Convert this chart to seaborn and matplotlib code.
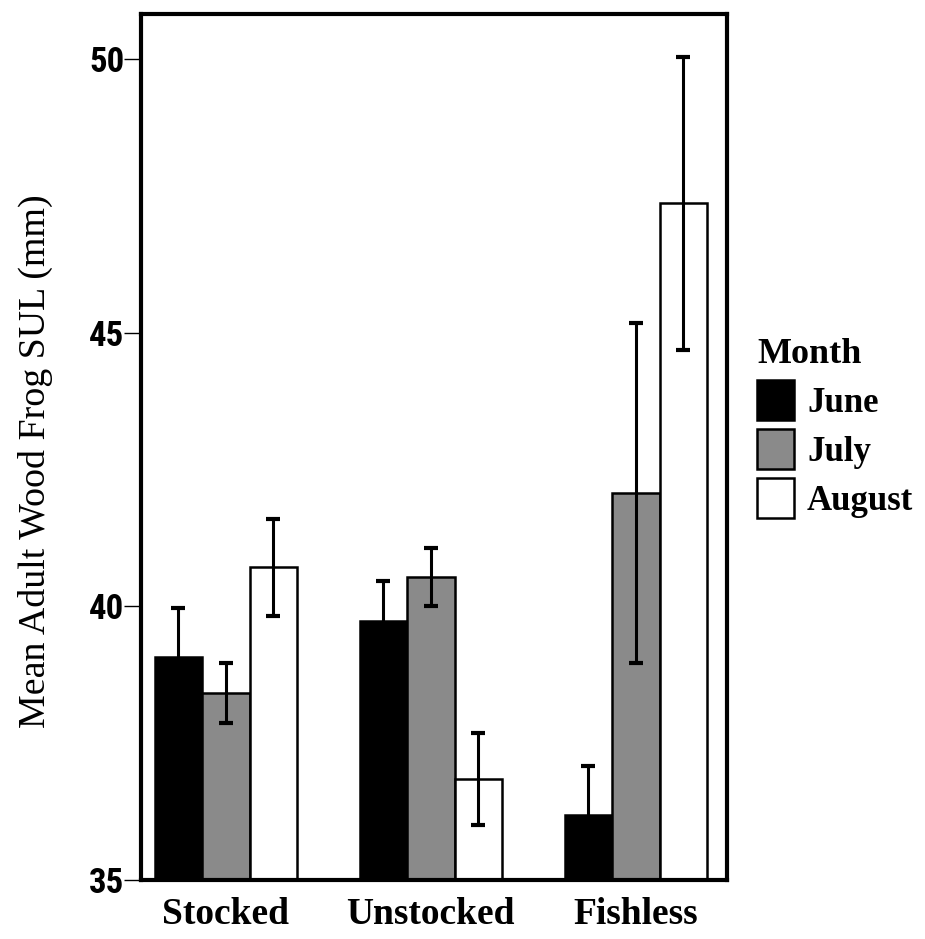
import matplotlib
matplotlib.use("Agg")
import matplotlib.pyplot as plt
from matplotlib import font_manager as fm
import seaborn as sns
import pandas as pd

categories = ["Stocked", "Unstocked", "Fishless"]
months = ["June", "July", "August"]
june = [39.08, 39.74, 36.19]
july = [38.41, 40.53, 42.07]
august = [40.71, 36.84, 47.36]
june_err = [0.89, 0.72, 0.90]
july_err = [0.55, 0.53, 3.11]
august_err = [0.88, 0.84, 2.68]
yticks = [35, 40, 45, 50]

df = pd.DataFrame({
    "Habitat": categories * 3,
    "Month": ["June"] * 3 + ["July"] * 3 + ["August"] * 3,
    "SUL": june + july + august,
})
errs = {"June": june_err, "July": july_err, "August": august_err}
vals = {"June": june, "July": july, "August": august}

sns.set_style("white")
plt.rcParams["font.family"] = ["Liberation Serif", "DejaVu Serif"]
for k in ["text.color", "axes.labelcolor", "xtick.color", "ytick.color",
          "axes.edgecolor"]:
    plt.rcParams[k] = "black"

# pick a narrow sans for the y tick labels if one is installed
narrow_path = None
for f in fm.fontManager.ttflist:
    nm = (f.name + " " + f.fname).lower()
    if ("narrow" in nm or "condensed" in nm) and "serif" not in nm and "mono" not in nm:
        if "italic" in f.fname.lower() or "oblique" in f.fname.lower():
            continue
        if narrow_path is None or "bold" in f.fname.lower():
            narrow_path = f.fname
if narrow_path is not None:
    tick_fp = fm.FontProperties(fname=narrow_path, size=22 if "dejavu" in narrow_path.lower() else 25)
else:
    tick_fp = fm.FontProperties(family="Liberation Sans", weight="bold", size=23)

fig = plt.figure(figsize=(9.25, 9.39), dpi=100)
ax = fig.add_axes([141 / 925, 1 - 880 / 939, (727 - 141) / 925, (880 - 14) / 939])

palette = {"June": "#000000", "July": "#8a8a8a", "August": "#ffffff"}
sns.barplot(data=df, x="Habitat", y="SUL", hue="Month", order=categories,
            hue_order=months, palette=palette, width=0.695, gap=0,
            edgecolor="black", linewidth=1.8, errorbar=None, ax=ax,
            saturation=1)

for container, m in zip(ax.containers, months):
    xs = [p.get_x() + p.get_width() / 2 for p in container.patches]
    ax.errorbar(xs, vals[m], yerr=errs[m], fmt="none", ecolor="black",
                elinewidth=2.2, capsize=5, capthick=3, zorder=5)

ax.set_ylim(35, 50.82)
ax.set_xlim(-0.414, 2.445)
ax.set_yticks(yticks)
ax.set_yticklabels([str(t) for t in yticks], fontproperties=tick_fp)
ax.set_xticks(range(len(categories)))
ax.set_xticklabels(categories, fontsize=27, fontweight="bold")
ax.tick_params(axis="y", direction="out", length=12, width=1.0, left=True, pad=0)
ax.tick_params(axis="x", length=0, pad=12)
for s in ax.spines.values():
    s.set_linewidth(3)
    s.set_color("black")
ax.set_xlabel("")
ax.set_ylabel("Mean Adult Wood Frog SUL (mm)", fontsize=27.3)
ax.yaxis.set_label_coords(-0.150, 0.484)

leg = ax.legend(title="Month", loc="upper left",
                bbox_to_anchor=(757 / 925, 1 - 338 / 939),
                bbox_transform=fig.transFigure,
                frameon=False, prop={"size": 25, "weight": "bold"},
                title_fontproperties={"size": 26, "weight": "bold"},
                handlelength=1.07, handleheight=1.4, handletextpad=0.37,
                labelspacing=0.26, borderaxespad=0, borderpad=0)
leg._legend_box.align = "left"

fig.savefig("out.png", dpi=100)
